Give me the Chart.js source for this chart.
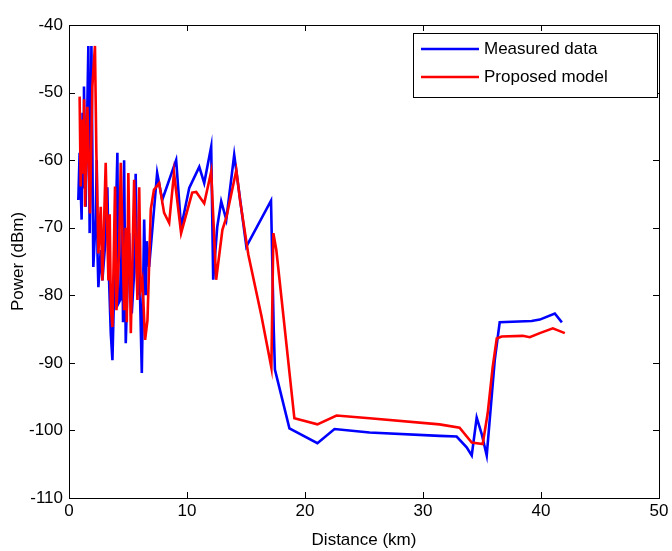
<!DOCTYPE html>
<html>
<head>
<meta charset="utf-8">
<script src="https://cdn.jsdelivr.net/npm/chart.js@4/dist/chart.umd.min.js"></script>
<style>
  body { margin: 0; background: #fff; }
</style>
</head>
<body>
<canvas id="myChart" width="672" height="551"></canvas>
<script>
var ctx = document.getElementById('myChart').getContext('2d');

// Measured data (blue)
var measuredDist = [0.79, 0.9, 1.07, 1.15, 1.2, 1.27, 1.41, 1.64, 1.75, 1.9, 1.98, 2.06, 2.26, 2.35, 2.42, 2.49, 2.69, 2.83, 3.11, 3.25, 3.4, 3.54, 3.68, 3.9, 4.1, 4.19, 4.39, 4.5, 4.58, 4.67, 4.81, 5.09, 5.32, 5.52, 5.65, 5.8, 5.94, 6.17, 6.37, 6.5, 6.6, 6.79, 7.47, 7.9, 9.08, 9.5, 10.19, 11.04, 11.46, 12.05, 12.22, 12.56, 12.9, 13.33, 14.0, 15.03, 17.12, 17.25, 17.35, 17.45, 18.68, 21.05, 22.5, 25.47, 31.4, 32.85, 33.7, 34.13, 34.55, 34.97, 35.4, 35.65, 36.08, 36.5, 39.2, 39.9, 41.17, 41.77];
var measuredPower = [-65.9, -58.9, -68.8, -53, -64, -49.1, -66.9, -43.1, -70.8, -43.1, -58.9, -75.8, -68.8, -60, -74, -78.8, -73.3, -77.8, -71.4, -64, -78, -85.6, -89.6, -73.8, -58.9, -81.2, -80.5, -66, -84, -60, -87.1, -70.8, -82.7, -76.7, -62, -80, -73.8, -91.5, -68.8, -80, -72, -75.8, -61.9, -65.9, -60, -70, -64.1, -61, -63.4, -58, -77.7, -69.9, -66.1, -68.8, -59.2, -72.8, -66, -77, -85, -91, -99.7, -101.9, -99.8, -100.3, -100.8, -100.9, -102.5, -103.7, -98.1, -100.5, -103.7, -98.5, -89.6, -84, -83.8, -83.6, -82.7, -84];

// Proposed model (red)
var modelDist = [0.9, 0.99, 1.13, 1.22, 1.28, 1.36, 1.56, 1.78, 1.98, 2.2, 2.32, 2.49, 2.69, 2.75, 2.83, 3.11, 3.34, 3.45, 3.55, 3.68, 3.9, 4.02, 4.24, 4.39, 4.67, 4.8, 4.9, 5.03, 5.24, 5.52, 5.8, 5.95, 6.08, 6.22, 6.45, 6.65, 6.93, 7.2, 7.64, 8.06, 8.49, 8.9, 9.5, 10.44, 10.78, 11.46, 12.05, 12.47, 13.0, 13.33, 14.18, 14.5, 15.2, 16.3, 17.15, 17.32, 17.57, 19.1, 21.05, 22.67, 25.47, 31.4, 33.1, 34.13, 35.06, 35.48, 35.9, 36.25, 36.67, 38.45, 39.05, 39.9, 41.0, 42.02];
var modelPower = [-50.6, -63.9, -54, -62, -51, -66.9, -52.1, -67.9, -49.1, -43.1, -58.9, -73.8, -66.9, -72, -77.8, -60.4, -77.8, -68, -82, -84.7, -63.9, -82.2, -73.8, -60.4, -82.2, -70, -84, -61.9, -85.6, -62.9, -80.7, -64, -79, -77.8, -86.6, -83.7, -67.3, -64.4, -63.4, -67.8, -69.3, -61.9, -70.8, -64.8, -64.7, -66.4, -61.7, -77.7, -70.3, -68.5, -61.5, -66, -74, -83, -90.7, -70.8, -73.3, -98.2, -99.1, -97.8, -98.2, -99.1, -99.6, -101.8, -102, -97.5, -90.7, -86.4, -86.1, -86, -86.2, -85.6, -84.9, -85.6];

var xTicks = [0, 10, 20, 30, 40, 50];
var yTicks = [-110, -100, -90, -80, -70, -60, -50, -40];

function toPoints(xs, ys) {
    var pts = [];
    for (var i = 0; i < xs.length; i++) {
        pts.push({ x: xs[i], y: ys[i] });
    }
    return pts;
}

var font = "'Liberation Sans', Arial, sans-serif";

// frame, inward ticks and legend box like the matlab figure
var framePlugin = {
    id: 'frame',
    afterDraw: function (chart) {
        var c = chart.ctx;
        var a = chart.chartArea;
        var xs = chart.scales.x;
        var ys = chart.scales.y;
        c.save();
        c.strokeStyle = '#000';
        c.lineWidth = 1;
        c.strokeRect(a.left + 0.5, a.top + 0.5, a.right - a.left, a.bottom - a.top);
        c.beginPath();
        xTicks.forEach(function (v) {
            var px = Math.round(xs.getPixelForValue(v)) + 0.5;
            c.moveTo(px, a.bottom); c.lineTo(px, a.bottom - 6);
            c.moveTo(px, a.top); c.lineTo(px, a.top + 6);
        });
        yTicks.forEach(function (v) {
            var py = Math.round(ys.getPixelForValue(v)) + 0.5;
            c.moveTo(a.left, py); c.lineTo(a.left + 6, py);
            c.moveTo(a.right, py); c.lineTo(a.right - 6, py);
        });
        c.stroke();

        // legend
        var bx = 413, by = 33, bw = 244, bh = 64;
        c.fillStyle = '#fff';
        c.fillRect(bx, by, bw, bh);
        c.strokeRect(bx + 0.5, by + 0.5, bw, bh);
        c.font = '17px ' + font;
        c.textBaseline = 'middle';
        chart.data.datasets.forEach(function (ds, i) {
            var ly = by + 16 + i * 28;
            c.strokeStyle = ds.borderColor;
            c.lineWidth = 2.5;
            c.beginPath();
            c.moveTo(bx + 8, ly); c.lineTo(bx + 66, ly);
            c.stroke();
            c.fillStyle = '#000';
            c.fillText(ds.label, bx + 71, ly);
        });
        c.restore();
    }
};

var myChart = new Chart(ctx, {
    type: 'scatter',
    data: {
        datasets: [{
            label: "Measured data",
            data: toPoints(measuredDist, measuredPower),
            borderColor: "#0000ff",
            showLine: true,
            borderWidth: 2.6,
            pointRadius: 0,
            fill: false,
            order: 2
        },
        {
            label: "Proposed model",
            data: toPoints(modelDist, modelPower),
            borderColor: "#ff0000",
            showLine: true,
            borderWidth: 2.6,
            pointRadius: 0,
            fill: false,
            order: 1
        }]
    },
    options: {
        responsive: false,
        animation: false,
        layout: { padding: { left: 0, right: 13, top: 25, bottom: 0 } },
        plugins: {
            legend: { display: false },
            tooltip: { enabled: false }
        },
        scales: {
            x: {
                type: 'linear',
                min: 0,
                max: 50,
                afterFit: function (s) { s.height = 53; },
                afterBuildTicks: function (s) { s.ticks = xTicks.map(function (v) { return { value: v }; }); },
                grid: { display: false, drawTicks: false },
                border: { display: false },
                ticks: { color: '#000', padding: 3, font: { family: font, size: 17 } },
                title: { display: true, text: 'Distance (km)', color: '#000', padding: { top: 4, bottom: 0 }, font: { family: font, size: 17 } }
            },
            y: {
                type: 'linear',
                min: -110,
                max: -40,
                afterFit: function (s) { s.width = 69; },
                afterBuildTicks: function (s) { s.ticks = yTicks.map(function (v) { return { value: v }; }); },
                grid: { display: false, drawTicks: false },
                border: { display: false },
                ticks: { color: '#000', padding: 6, font: { family: font, size: 17 } },
                title: { display: true, text: 'Power (dBm)', color: '#000', padding: { top: 8, bottom: 4 }, font: { family: font, size: 17 } }
            }
        }
    },
    plugins: [framePlugin]
});
</script>
</body>
</html>
